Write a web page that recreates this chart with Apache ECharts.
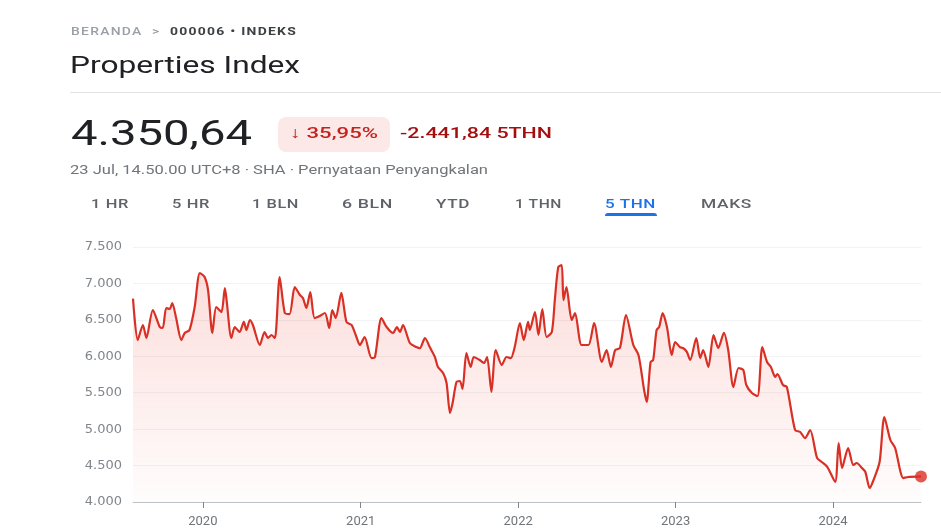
<!DOCTYPE html>
<html>
<head>
<meta charset="utf-8">
<script src="https://cdn.jsdelivr.net/npm/echarts@6/dist/echarts.min.js"></script>
<style>
  html, body { margin: 0; padding: 0; background: #fff; }
  #page { position: relative; width: 941px; height: 531px; overflow: hidden; font-family: Roboto, "Noto Sans", sans-serif; }
  #chart { position: absolute; left: 0; top: 0; width: 941px; height: 531px; }
  .t { position: absolute; white-space: nowrap; transform-origin: 0 0; }
  .sep { position: absolute; left: 70px; top: 92px; width: 871px; height: 1px; background: #e3e3e3; }
  .pill { position: absolute; left: 278px; top: 117px; width: 112px; height: 35px; background: #fce8e6; border-radius: 8px; }
  .bar { position: absolute; left: 605px; top: 213px; width: 52px; height: 3px; background: #1a73e8; border-radius: 3px 3px 0 0; }
  .tab { font-size: 13.5px; line-height: 13.5px; color: #5f6368; font-weight: 500; letter-spacing: 0.5px; }
</style>
</head>
<body>
<div id="page">
  <div id="chart"></div>
  <div class="t" data-w="226" style="left:71px; top:26.4px; font-size:11px; line-height:11px; letter-spacing:1px; font-weight:500;">
    <span style="color:#9aa0a6">BERANDA</span>&nbsp;&nbsp;<span style="color:#9aa0a6">&gt;</span>&nbsp;&nbsp;<span style="color:#3c4043; font-weight:700">000006 • INDEKS</span>
  </div>
  <div class="t" data-w="230" style="left:70px; top:54px; font-size:23px; line-height:23px; color:#202124;">Properties Index</div>
  <div class="sep"></div>
  <div class="t" data-w="181" style="left:71px; top:116px; font-size:35px; line-height:35px; color:#202124;">4.350,64</div>
  <div class="pill"></div>
  <div class="t" data-w="88" style="left:290px; top:126px; font-size:15.5px; line-height:15.5px; color:#c5221f; font-weight:500;">↓ 35,95%</div>
  <div class="t" data-w="152" style="left:400px; top:126px; font-size:15.5px; line-height:15.5px; color:#a50e0e; font-weight:500;">-2.441,84 5THN</div>
  <div class="t" data-w="418" style="left:70px; top:164.2px; font-size:12px; line-height:12px; color:#70757a;">23 Jul, 14.50.00 UTC+8 · SHA · Pernyataan Penyangkalan</div>
  <div class="t tab" data-w="38" style="left:91px; top:196.6px;">1 HR</div>
  <div class="t tab" data-w="38" style="left:172px; top:196.6px;">5 HR</div>
  <div class="t tab" data-w="47" style="left:252px; top:196.6px;">1 BLN</div>
  <div class="t tab" data-w="51" style="left:342px; top:196.6px;">6 BLN</div>
  <div class="t tab" data-w="34" style="left:436px; top:196.6px;">YTD</div>
  <div class="t tab" data-w="47" style="left:515px; top:196.6px;">1 THN</div>
  <div class="t tab" data-w="51" style="left:605px; top:196.6px; color:#1a73e8;">5 THN</div>
  <div class="t tab" data-w="51" style="left:701px; top:196.6px;">MAKS</div>
  <div class="bar"></div>
</div>
<script>
// closing values
const dates = [
  '2019-07-23', '2019-08-03', '2019-08-15', '2019-08-23', '2019-09-07', '2019-09-23', '2019-09-30',
  '2019-10-08', '2019-10-16', '2019-10-22', '2019-10-31', '2019-11-12', '2019-11-20', '2019-12-01',
  '2019-12-13', '2019-12-25', '2020-01-05', '2020-01-13', '2020-01-23', '2020-02-01', '2020-02-13',
  '2020-02-21', '2020-02-25', '2020-03-07', '2020-03-15', '2020-03-26', '2020-04-05', '2020-04-11',
  '2020-04-19', '2020-04-26', '2020-05-12', '2020-05-23', '2020-05-31', '2020-06-08', '2020-06-16',
  '2020-06-27', '2020-07-09', '2020-07-20', '2020-08-01', '2020-08-13', '2020-08-20', '2020-08-28',
  '2020-09-06', '2020-09-16', '2020-09-28', '2020-10-10', '2020-10-20', '2020-10-27', '2020-11-04',
  '2020-11-17', '2020-11-29', '2020-12-11', '2020-12-22', '2020-12-30', '2021-01-10', '2021-01-26',
  '2021-02-03', '2021-02-18', '2021-03-02', '2021-03-17', '2021-03-26', '2021-04-02', '2021-04-09',
  '2021-04-25', '2021-05-10', '2021-05-18', '2021-05-30', '2021-06-10', '2021-06-22', '2021-06-29',
  '2021-07-11', '2021-07-19', '2021-07-27', '2021-08-02', '2021-08-11', '2021-08-19', '2021-08-25',
  '2021-09-03', '2021-09-13', '2021-09-20', '2021-10-04', '2021-10-14', '2021-10-21', '2021-10-31',
  '2021-11-10', '2021-11-24', '2021-12-05', '2021-12-15', '2021-12-24', '2022-01-05', '2022-01-14',
  '2022-01-24', '2022-01-28', '2022-02-09', '2022-02-17', '2022-02-26', '2022-03-08', '2022-03-20',
  '2022-03-27', '2022-04-04', '2022-04-12', '2022-04-16', '2022-04-23', '2022-05-05', '2022-05-13',
  '2022-05-28', '2022-06-13', '2022-06-26', '2022-07-14', '2022-07-25', '2022-08-04', '2022-08-14',
  '2022-08-25', '2022-09-08', '2022-09-25', '2022-10-07', '2022-10-20', '2022-10-26', '2022-11-04',
  '2022-11-10', '2022-11-18', '2022-11-24', '2022-12-02', '2022-12-12', '2022-12-23', '2022-12-31',
  '2023-01-11', '2023-01-19', '2023-01-27', '2023-02-04', '2023-02-18', '2023-02-27', '2023-03-06',
  '2023-03-18', '2023-03-30', '2023-04-10', '2023-04-23', '2023-05-03', '2023-05-15', '2023-05-27',
  '2023-06-07', '2023-06-14', '2023-06-27', '2023-07-10', '2023-07-21', '2023-08-01', '2023-08-10',
  '2023-08-20', '2023-08-25', '2023-09-07', '2023-09-16', '2023-10-05', '2023-10-17', '2023-10-28',
  '2023-11-09', '2023-11-25', '2023-12-06', '2023-12-19', '2024-01-06', '2024-01-14', '2024-01-22',
  '2024-02-05', '2024-02-17', '2024-02-25', '2024-03-08', '2024-03-16', '2024-03-26', '2024-04-04',
  '2024-04-18', '2024-04-29', '2024-05-13', '2024-05-24', '2024-06-12', '2024-06-23', '2024-07-23'
]
const values = [
  6792, 6223, 6429, 6251, 6635, 6402, 6388,
  6663, 6650, 6731, 6525, 6223, 6320, 6361,
  6676, 7143, 7088, 6910, 6320, 6676, 6608,
  6937, 6772, 6251, 6402, 6333, 6471, 6361,
  6498, 6429, 6155, 6333, 6251, 6292, 6251,
  7088, 6594, 6580, 6951, 6841, 6800, 6663,
  6882, 6525, 6553, 6594, 6388, 6635, 6525,
  6869, 6471, 6429, 6265, 6155, 6265, 5976,
  5990, 6525, 6402, 6320, 6402, 6333, 6429,
  6182, 6127, 6110, 6251, 6127, 5990, 5853,
  5771, 5633, 5222, 5359, 5647, 5660, 5551,
  6045, 5853, 5990, 5949, 5908, 5990, 5510,
  6086, 5880, 5990, 5976, 6127, 6457, 6223,
  6471, 6361, 6608, 6292, 6649, 6265, 6333,
  6772, 7225, 7253, 6772, 6951, 6498, 6594,
  6155, 6155, 6457, 5922, 6086, 5853, 6086,
  6114, 6567, 6155, 6018, 5537, 5373, 5922,
  5949, 6361, 6402, 6594, 6402, 6018, 6196,
  6127, 6110, 6060, 5949, 6251, 5976, 6086,
  5853, 6292, 6114, 6320, 6086, 5578, 5839,
  5812, 5606, 5496, 5455, 6127, 5922, 5853,
  5716, 5757, 5606, 5578, 4988, 4961, 4878,
  4988, 4604, 4549, 4480, 4275, 4810, 4467,
  4741, 4508, 4535, 4467, 4412, 4192, 4302,
  4549, 5167, 4851, 4741, 4329, 4343, 4350.64
]
const yearTicks = [2020, 2021, 2022, 2023, 2024]
const yTicks = [4000, 4500, 5000, 5500, 6000, 6500, 7000, 7500]

// stretch the header texts to the widths they have in the screenshot
document.querySelectorAll('[data-w]').forEach((el) => {
  const w = el.getBoundingClientRect().width
  el.style.transform = 'scaleX(' + (Number(el.dataset.w) / w) + ')'
})

const toTime = (s) => {
  const p = s.split('-').map(Number)
  return Date.UTC(p[0], p[1] - 1, p[2])
}
const fmtNum = (v) => String(v).replace(/\B(?=(\d{3})+(?!\d))/g, '.')

const points = dates.map((d, i) => [toTime(d), values[i]])
const last = points[points.length - 1]
const yearStarts = yearTicks.map((y) => Date.UTC(y, 0, 1))

const chart = echarts.init(document.getElementById('chart'), null, { renderer: 'canvas' })
chart.setOption({
  animation: false,
  grid: { left: 133, top: 247, width: 788, height: 255 },
  xAxis: {
    type: 'value',
    min: toTime(dates[0]),
    max: toTime(dates[dates.length - 1]),
    axisLine: { show: true, lineStyle: { color: '#bdc1c6', width: 1 } },
    axisTick: { show: true, customValues: yearStarts, length: 6, lineStyle: { color: '#80868b' } },
    axisLabel: {
      customValues: yearStarts,
      formatter: (v) => String(new Date(v).getUTCFullYear()),
      color: '#70757a',
      fontFamily: 'Roboto',
      fontSize: 13,
      margin: 13
    },
    splitLine: { show: false }
  },
  yAxis: {
    type: 'value',
    min: yTicks[0],
    max: yTicks[yTicks.length - 1],
    interval: 500,
    axisLine: { show: false },
    axisTick: { show: false },
    axisLabel: {
      formatter: (v) => fmtNum(v),
      color: '#80868b',
      fontFamily: 'DejaVu Sans',
      fontSize: 13,
      margin: 11
    },
    splitLine: { show: true, lineStyle: { color: '#f1f3f4', width: 1 } }
  },
  series: [
    {
      type: 'line',
      data: points,
      showSymbol: false,
      smooth: 0.25,
      lineStyle: { color: '#d93025', width: 2.2 },
      areaStyle: {
        origin: 'start',
        color: new echarts.graphic.LinearGradient(0, 0, 0, 1, [
          { offset: 0, color: 'rgba(234, 67, 53, 0.26)' },
          { offset: 1, color: 'rgba(234, 67, 53, 0.02)' }
        ])
      },
      z: 2
    },
    {
      type: 'scatter',
      data: [last],
      symbol: 'circle',
      symbolSize: 12,
      itemStyle: { color: '#d93025' },
      z: 3
    }
  ]
})
</script>
</body>
</html>
